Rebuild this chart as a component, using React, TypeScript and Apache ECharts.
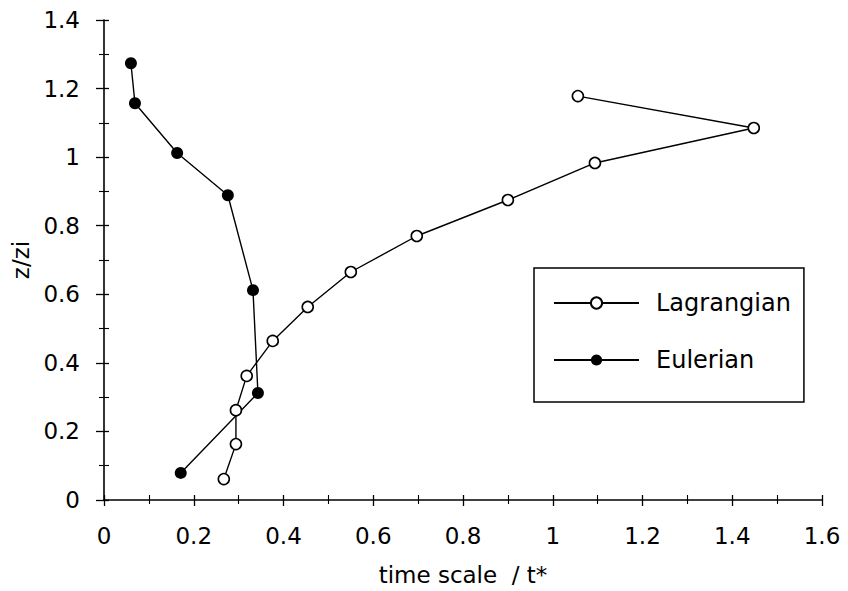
import React, { useEffect, useRef } from "react";
import * as echarts from "echarts";

const lagrangianT = [0.267, 0.294, 0.294, 0.318, 0.376, 0.454, 0.55, 0.697, 0.9, 1.094, 1.448, 1.056];
const lagrangianZ = [0.061, 0.163, 0.262, 0.362, 0.464, 0.563, 0.665, 0.77, 0.875, 0.983, 1.085, 1.178];
const eulerianT = [0.06, 0.069, 0.163, 0.276, 0.332, 0.343, 0.171];
const eulerianZ = [1.274, 1.157, 1.012, 0.889, 0.612, 0.312, 0.079];

const FONT = "DejaVu Sans";

export default function App() {
  const ref = useRef<HTMLDivElement>(null);
  useEffect(() => {
    if (!ref.current) return;
    const chart = echarts.init(ref.current, undefined, { renderer: "svg" });
    const lag = lagrangianT.map((t, i) => [t, lagrangianZ[i]]);
    const eul = eulerianT.map((t, i) => [t, eulerianZ[i]]);
    const xBase = { type: "value" as const, min: 0, max: 1.6, interval: 0.2, splitLine: { show: false } };
    const yBase = { type: "value" as const, min: 0, max: 1.4, interval: 0.2, splitLine: { show: false } };
    const tickStyle = { color: "#000", width: 1.3 };
    const minorStyle = { color: "#000", width: 1.1 };
    const fmt = (v: number) => String(Math.round(v * 10) / 10);
    chart.setOption({
      animation: false,
      backgroundColor: "#fff",
      grid: { left: 104, right: 26, top: 20, bottom: 91 },
      legend: {
        orient: "vertical",
        left: 534,
        top: 268,
        padding: [23, 13, 30, 19],
        itemWidth: 85,
        itemHeight: 14,
        itemGap: 33,
        borderColor: "#000",
        borderWidth: 1.5,
        borderRadius: 0,
        textStyle: { fontFamily: FONT, fontSize: 24, color: "#000", lineHeight: 24, padding: [0, 0, 0, 12] },
        data: ["Lagrangian", "Eulerian"],
      },
      xAxis: [
        {
          ...xBase,
          position: "bottom",
          name: "time scale  / t*",
          nameLocation: "middle",
          nameGap: 63,
          nameTextStyle: { fontFamily: FONT, fontSize: 23, color: "#000" },
          axisLine: { show: true, lineStyle: { color: "#000", width: 1.6 } },
          axisTick: { show: false },
          axisLabel: { margin: 24, fontFamily: FONT, fontSize: 23, color: "#000", formatter: fmt },
        },
        {
          ...xBase,
          position: "bottom",
          offset: -5,
          axisLine: { show: false },
          axisLabel: { show: false },
          axisTick: { show: true, inside: false, length: 11, lineStyle: tickStyle },
          minorTick: { show: true, splitNumber: 2, length: 9, lineStyle: minorStyle },
        },
      ],
      yAxis: [
        {
          ...yBase,
          position: "left",
          name: "z/zi",
          nameLocation: "middle",
          nameGap: 64,
          nameTextStyle: { fontFamily: FONT, fontSize: 23, color: "#000" },
          axisLine: { show: true, lineStyle: { color: "#000", width: 1.6 } },
          axisTick: { show: false },
          axisLabel: { margin: 24, fontFamily: FONT, fontSize: 23, color: "#000", formatter: fmt },
        },
        {
          ...yBase,
          position: "left",
          offset: -5,
          axisLine: { show: false },
          axisLabel: { show: false },
          axisTick: { show: true, inside: false, length: 13, lineStyle: tickStyle },
          minorTick: { show: true, splitNumber: 2, length: 10, lineStyle: minorStyle },
        },
      ],
      series: [
        {
          name: "Lagrangian",
          type: "line",
          data: lag,
          symbol: "circle",
          symbolSize: 11,
          showAllSymbol: true,
          lineStyle: { color: "#000", width: 1.4 },
          itemStyle: { color: "#fff", borderColor: "#000", borderWidth: 1.6 },
          z: 3,
        },
        {
          name: "Eulerian",
          type: "line",
          data: eul,
          symbol: "circle",
          symbolSize: 12,
          showAllSymbol: true,
          lineStyle: { color: "#000", width: 1.4 },
          itemStyle: { color: "#000", borderColor: "#000", borderWidth: 0 },
          z: 2,
        },
      ],
    });
    return () => chart.dispose();
  }, []);
  return (
    <div
      ref={ref}
      style={{ position: "fixed", left: 0, top: 0, width: 848, height: 591, background: "#fff" }}
    />
  );
}
